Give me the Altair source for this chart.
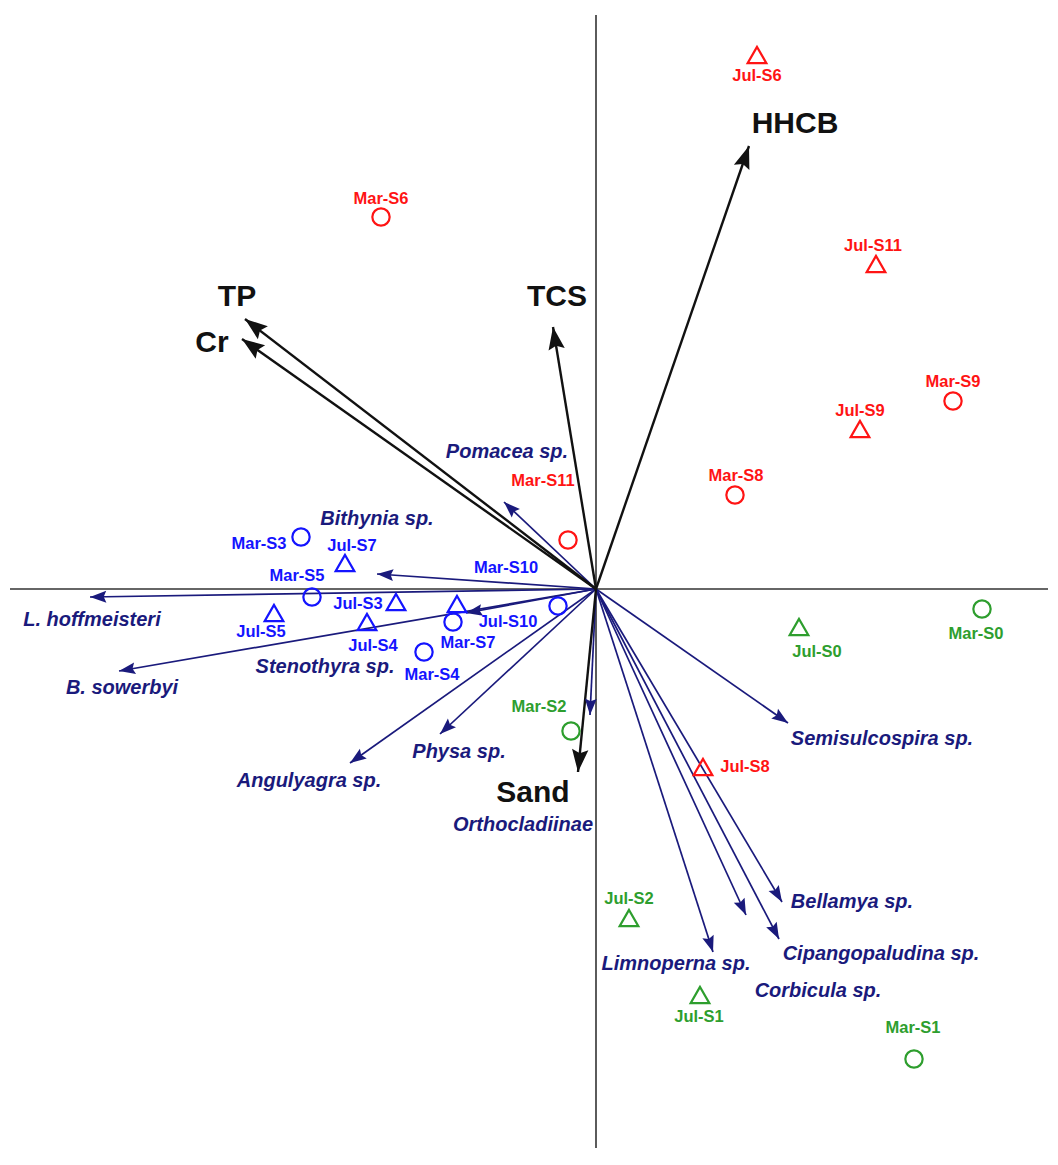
import altair as alt
import pandas as pd
import numpy as np

# ---------------- data (ordination scores, arbitrary units) ----------------
# Environmental variables: arrow tips and label anchors
env_names = ["HHCB", "TCS", "TP", "Cr", "Sand"]
env_x = [1.53, -0.43, -3.51, -3.54, -0.18]
env_y = [4.43, 2.62, 2.70, 2.50, -1.83]
env_lab_x = [1.99, -0.39, -3.59, -3.84, -0.63]
env_lab_y = [4.65, 2.92, 2.92, 2.46, -2.04]

# Species: arrow tips and label anchors
sp_names = ["L. hoffmeisteri", "B. sowerbyi", "Bithynia sp.", "Stenothyra sp.",
            "Pomacea sp.", "Physa sp.", "Angulyagra sp.", "Orthocladiinae",
            "Semisulcospira sp.", "Bellamya sp.", "Cipangopaludina sp.",
            "Corbicula sp.", "Limnoperna sp."]
sp_x = [-5.06, -4.77, -2.19, -1.30, -0.92, -1.56, -2.46, -0.06, 1.92, 1.86, 1.83, 1.50, 1.17]
sp_y = [-0.08, -0.82, 0.15, -0.24, 0.87, -1.45, -1.74, -1.26, -1.34, -3.13, -3.50, -3.26, -3.63]
sp_lab_x = [-5.04, -4.74, -2.19, -2.71, -0.89, -1.37, -2.87, -0.73, 2.86, 2.56, 2.85, 2.22, 0.80]
sp_lab_y = [-0.31, -0.99, 0.70, -0.78, 1.37, -1.63, -1.92, -2.36, -1.50, -3.13, -3.65, -4.02, -3.75]

# Samples: season, site group, score and label anchor
smp_names = ["Jul-S6", "Mar-S6", "Jul-S11", "Mar-S9", "Jul-S9", "Mar-S8", "Mar-S11", "Jul-S8",
             "Mar-S0", "Jul-S0", "Mar-S2", "Jul-S2", "Jul-S1", "Mar-S1",
             "Mar-S3", "Jul-S7", "Mar-S5", "Jul-S5", "Jul-S3", "Jul-S4", "Mar-S7", "Mar-S4",
             "Jul-S10", "Mar-S10"]
smp_season = ["Jul", "Mar", "Jul", "Mar", "Jul", "Mar", "Mar", "Jul",
              "Mar", "Jul", "Mar", "Jul", "Jul", "Mar",
              "Mar", "Jul", "Mar", "Jul", "Jul", "Jul", "Mar", "Mar",
              "Jul", "Mar"]
smp_group = ["A"] * 8 + ["B"] * 6 + ["C"] * 10
smp_x = [1.61, -2.15, 2.80, 3.57, 2.64, 1.39, -0.28, 1.07,
         3.86, 2.03, -0.25, 0.33, 1.04, 3.18,
         -2.95, -2.51, -2.84, -3.22, -2.00, -2.29, -1.43, -1.72,
         -1.39, -0.38]
smp_y = [5.34, 3.72, 3.25, 1.88, 1.60, 0.94, 0.49, -1.78,
         -0.20, -0.38, -1.42, -3.29, -4.06, -4.70,
         0.52, 0.26, -0.08, -0.24, -0.13, -0.33, -0.33, -0.63,
         -0.15, -0.17]
smp_lab_x = [1.61, -2.15, 2.77, 3.57, 2.64, 1.40, -0.53, 1.49,
             3.80, 2.21, -0.57, 0.33, 1.03, 3.17,
             -3.37, -2.44, -2.99, -3.35, -2.38, -2.23, -1.28, -1.64,
             -0.88, -0.90]
smp_lab_y = [5.13, 3.90, 3.43, 2.07, 1.78, 1.13, 1.08, -1.78,
             -0.45, -0.63, -1.18, -3.10, -4.28, -4.39,
             0.45, 0.43, 0.13, -0.43, -0.15, -0.57, -0.54, -0.86,
             -0.33, 0.21]

# ---------------- layout / styling ----------------
W, H = 1040, 1140
XDOM = [-5.88, 4.52]
YDOM = [-5.59, 5.81]
FONT = "Liberation Sans"
NAVY = "#1a1a7c"
RED = "#ff1414"
GREEN = "#2e9e2e"
BLUE = "#1414ff"
HEAD = "M0,0L0.8,2.2L0,1.85L-0.8,2.2Z"

xs = alt.Scale(domain=XDOM, nice=False, zero=False)
ys = alt.Scale(domain=YDOM, nice=False, zero=False)


def angle(x, y):
    return [float(np.degrees(np.arctan2(a, b)) % 360) for a, b in zip(x, y)]


env = pd.DataFrame({"name": env_names, "x": env_x, "y": env_y, "x0": 0.0, "y0": 0.0,
                    "lx": env_lab_x, "ly": env_lab_y, "ang": angle(env_x, env_y)})
sp = pd.DataFrame({"name": sp_names, "x": sp_x, "y": sp_y, "x0": 0.0, "y0": 0.0,
                   "lx": sp_lab_x, "ly": sp_lab_y, "ang": angle(sp_x, sp_y)})
smp = pd.DataFrame({"name": smp_names, "season": smp_season, "group": smp_group,
                    "x": smp_x, "y": smp_y, "lx": smp_lab_x, "ly": smp_lab_y})
axes = pd.DataFrame({"x": [XDOM[0] + 0.02, 0.0], "x2": [XDOM[1], 0.0],
                     "y": [0.0, 5.74], "y2": [0.0, YDOM[0]]})

X = lambda f: alt.X(f, type="quantitative", scale=xs, axis=None)
Y = lambda f: alt.Y(f, type="quantitative", scale=ys, axis=None)

axis_layer = alt.Chart(axes).mark_rule(color="#333333", strokeWidth=1.6).encode(
    x=X("x"), y=Y("y"), x2="x2", y2="y2")

sp_lines = alt.Chart(sp).mark_rule(color=NAVY, strokeWidth=1.7).encode(
    x=X("x0"), y=Y("y0"), x2="x", y2="y")
sp_heads = alt.Chart(sp).mark_point(shape=HEAD, filled=True, size=220, color=NAVY,
                                    opacity=1, strokeWidth=0).encode(
    x=X("x"), y=Y("y"), angle=alt.Angle("ang:Q", scale=None))

env_lines = alt.Chart(env).mark_rule(color="#111111", strokeWidth=2.4).encode(
    x=X("x0"), y=Y("y0"), x2="x", y2="y")
env_heads = alt.Chart(env).mark_point(shape=HEAD, filled=True, size=420, color="#111111",
                                      opacity=1, strokeWidth=0).encode(
    x=X("x"), y=Y("y"), angle=alt.Angle("ang:Q", scale=None))

color_scale = alt.Scale(domain=["A", "B", "C"], range=[RED, GREEN, BLUE])

pts = alt.Chart(smp).mark_point(filled=False, strokeWidth=2.2, opacity=1).encode(
    x=X("x"), y=Y("y"),
    shape=alt.Shape("season:N", scale=alt.Scale(domain=["Mar", "Jul"], range=["circle", "triangle-up"]), legend=None),
    size=alt.Size("season:N", scale=alt.Scale(domain=["Mar", "Jul"], range=[300, 350]), legend=None),
    color=alt.Color("group:N", scale=color_scale, legend=None))

smp_text = alt.Chart(smp).mark_text(font=FONT, fontSize=16.5, fontWeight="bold",
                                    align="center", baseline="middle").encode(
    x=X("lx"), y=Y("ly"), text="name:N",
    color=alt.Color("group:N", scale=color_scale, legend=None))

sp_text = alt.Chart(sp).mark_text(font=FONT, fontSize=20, fontWeight="bold", fontStyle="italic",
                                  color=NAVY, align="center", baseline="middle").encode(
    x=X("lx"), y=Y("ly"), text="name:N")

env_text = alt.Chart(env).mark_text(font=FONT, fontSize=30, fontWeight="bold",
                                    color="#111111", align="center", baseline="middle").encode(
    x=X("lx"), y=Y("ly"), text="name:N")

chart = alt.layer(axis_layer, sp_lines, env_lines, sp_heads, env_heads, pts,
                  smp_text, sp_text, env_text).properties(
    width=W, height=H, padding=0,
    autosize=alt.AutoSizeParams(type="none")
).configure_view(stroke=None)

chart.save("out.html", embed_options={"renderer": "svg", "actions": False})
